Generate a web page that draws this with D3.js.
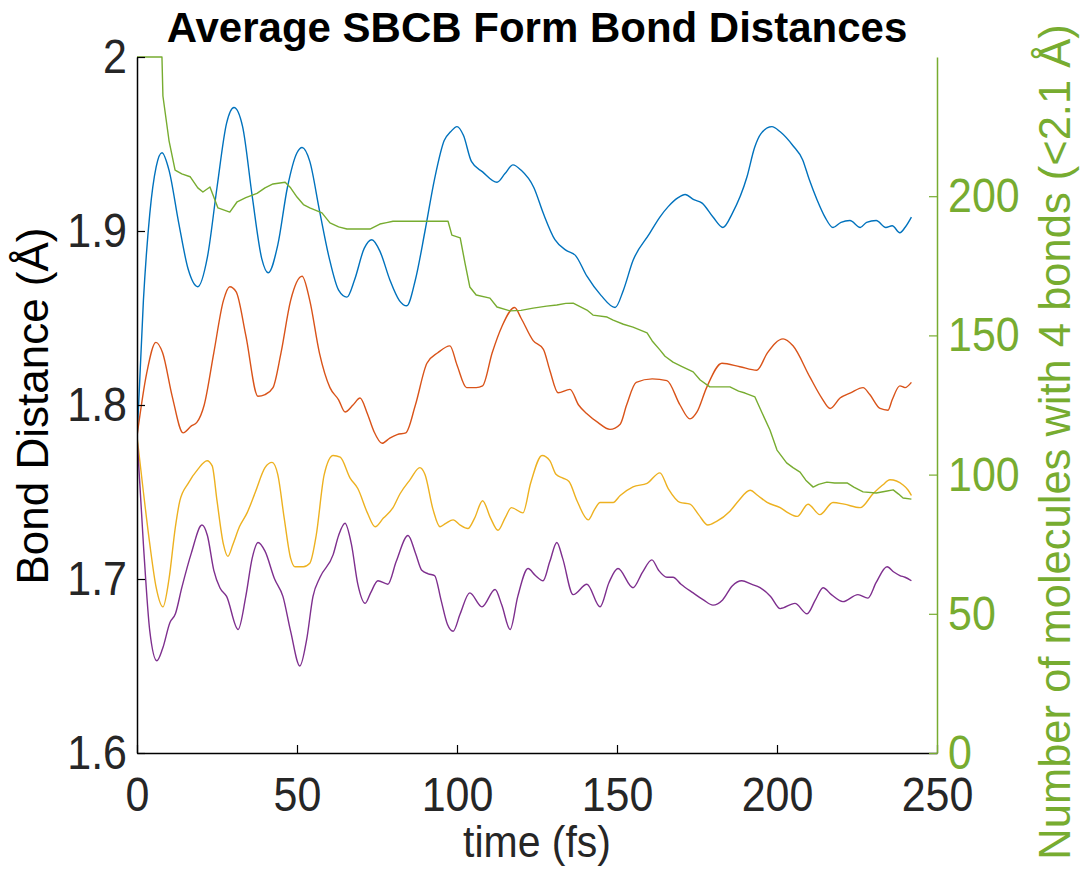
<!DOCTYPE html>
<html>
<head>
<meta charset="utf-8">
<script src="https://cdn.jsdelivr.net/npm/d3@7"></script>
<style>
  html, body { margin: 0; padding: 0; background: #fff; }
  svg { display: block; }
</style>
</head>
<body>
<svg id="chart" width="1084" height="869"></svg>
<script>
// ---------------- DATA ----------------
const xTicks = [0, 50, 100, 150, 200, 250];
const yLeftTicks = [1.6, 1.7, 1.8, 1.9, 2];
const yRightTicks = [0, 50, 100, 150, 200];

const blueT = [0,2,4,6,7.8,10,13,16,19,22,25,28,30.3,33,36,39,41,44,47,50,51.6,54,57,60,63,65.6,68,71,73.4,76,79,82,84.3,87,90,93,96,98,100,102,104.5,108,112.5,115,117.5,120,124,127,130.6,134,137,140.6,145,149.4,152,155,160,163.4,166,169,171.3,174,176.6,180,183.1,186,190.6,193,195,198.4,201,205,208,210,212.5,215,217.5,220,222.8,226,228,231,234,236,238.4,240,242];
const blueV = [1.78,1.86,1.91,1.937,1.945,1.935,1.905,1.878,1.868,1.885,1.925,1.962,1.971,1.96,1.92,1.884,1.876,1.892,1.925,1.945,1.948,1.94,1.912,1.885,1.866,1.862,1.872,1.89,1.895,1.888,1.872,1.86,1.857,1.872,1.9,1.93,1.952,1.957,1.96,1.955,1.94,1.934,1.928,1.933,1.938,1.935,1.925,1.91,1.895,1.889,1.886,1.874,1.863,1.856,1.866,1.883,1.898,1.908,1.914,1.919,1.921,1.918,1.916,1.908,1.902,1.91,1.931,1.948,1.956,1.96,1.957,1.949,1.941,1.93,1.918,1.908,1.902,1.905,1.906,1.902,1.905,1.906,1.902,1.903,1.899,1.902,1.908];

const redT = [0,3,5.9,8,11,14.4,17,18.7,21,24,27,29,31,34,37.8,40,42.5,45,48,51.6,54,57,60.3,63,65,67.5,69.7,72,74,76.6,79,81.3,84,87,90.6,94,97.8,100,103,106,108,111,114,118,120,123.8,127,129,131.6,135.3,138,140.6,144,147.8,151,153,156,161,165.6,169.7,172.8,175,178,182.8,188.4,193.7,197,201.9,205,210.3,214,216.6,219.7,223,226.9,229,232.2,234.7,236,238.4,240,242];
const redV = [1.782,1.818,1.836,1.83,1.805,1.784,1.788,1.79,1.8,1.83,1.86,1.868,1.865,1.84,1.805,1.806,1.81,1.83,1.86,1.874,1.86,1.83,1.81,1.803,1.796,1.8,1.804,1.795,1.785,1.778,1.781,1.783,1.784,1.8,1.824,1.83,1.834,1.823,1.81,1.81,1.811,1.83,1.845,1.856,1.85,1.837,1.832,1.82,1.807,1.809,1.8,1.795,1.79,1.786,1.789,1.8,1.813,1.815,1.814,1.8,1.792,1.796,1.81,1.824,1.822,1.82,1.83,1.838,1.834,1.816,1.804,1.798,1.804,1.807,1.81,1.806,1.798,1.797,1.803,1.811,1.81,1.813];

const yellowT = [0,2,4,6,8.1,10,12,13.4,16,19,21.9,23.5,25,27,28.4,30,32,34.4,37,40,42.2,44,46,48,49.4,52,54,56,58.5,61.3,63.5,66.6,69,72,74.4,77,80,82.2,85.3,88.4,90,92.5,94.7,96.5,98.8,101,103.4,105.5,108,110.5,112.8,115,117,120.6,123,126.6,129,131,133.1,135,137.5,141,143,144.7,148.8,151,155,159.4,163.4,166,169.7,172.8,175.5,178.4,181,185.3,188,191.6,194,196.9,201,203.5,206.3,209.7,213.4,217.5,221,226,230,233,235.3,239.4,241,242];
const yellowV = [1.782,1.75,1.72,1.695,1.684,1.7,1.73,1.745,1.755,1.763,1.768,1.765,1.745,1.72,1.713,1.72,1.73,1.738,1.75,1.764,1.767,1.76,1.735,1.712,1.707,1.707,1.709,1.725,1.76,1.771,1.77,1.758,1.752,1.738,1.73,1.735,1.741,1.749,1.757,1.764,1.76,1.74,1.73,1.732,1.734,1.731,1.729,1.735,1.745,1.735,1.728,1.735,1.741,1.738,1.755,1.771,1.768,1.76,1.758,1.756,1.745,1.734,1.74,1.744,1.744,1.748,1.753,1.755,1.761,1.752,1.744,1.743,1.737,1.731,1.733,1.739,1.745,1.751,1.748,1.744,1.741,1.738,1.736,1.743,1.737,1.744,1.743,1.741,1.749,1.754,1.757,1.754,1.751,1.748];

const purpleT = [0,2,4,6.2,8,10.3,12,14,17,20.3,22,24,25.9,28,31.6,34,36,37.8,40,43,45.6,48,50.9,53,55,57.2,61.3,63,65,67,69,71.3,73,75.3,78.4,81,84.7,87,89,91,93,95,97,98.8,101,104,107.8,111.9,114,116.6,119,122.2,124.5,126.9,129,131.2,133,136.3,140.6,144.7,147.5,150.3,155,158,160.9,163,165.6,167.5,170,173.8,177,180,183,186,189,192,194.7,198,201,205.6,209.4,212,214.4,217,220.6,225.3,228.4,231,234.4,236.5,238.4,240,242];
const purpleV = [1.782,1.72,1.67,1.653,1.66,1.675,1.68,1.695,1.715,1.731,1.725,1.705,1.695,1.69,1.671,1.69,1.712,1.721,1.716,1.7,1.69,1.67,1.65,1.665,1.69,1.701,1.714,1.725,1.732,1.72,1.697,1.686,1.692,1.699,1.697,1.71,1.725,1.715,1.705,1.703,1.702,1.688,1.674,1.67,1.68,1.692,1.684,1.694,1.685,1.671,1.69,1.706,1.702,1.699,1.71,1.721,1.712,1.691,1.697,1.684,1.698,1.706,1.695,1.704,1.711,1.705,1.701,1.701,1.697,1.692,1.688,1.685,1.688,1.696,1.699,1.697,1.695,1.69,1.683,1.686,1.68,1.688,1.695,1.691,1.687,1.691,1.689,1.698,1.707,1.704,1.702,1.701,1.699];

const greenT = [0,7.8,8.1,10,11.9,14,16.6,19,20.6,22.8,25.3,29,31.3,34,37.5,40,42.5,46.3,48,50,52,54,57.8,60.3,63,65.6,72.8,75.9,78,80,97.2,98.4,101,102.5,104,106,110.3,112.5,116.6,120,123.8,128,131.2,134,136.3,140.6,142.5,146.9,148.8,152,155,159.4,161,163.4,165,167.5,170,173.8,176,179,185.3,188,190,193.1,195,197.8,200,203,205,207.2,209,211.3,213,215.6,218,221.9,224,226.9,231,234,236.3,238,239.4,242];
const greenC = [250,250,236,220,209.4,208,207,203,201.5,203.3,195.8,194.3,198,199.5,201,203,204.4,205,203,199.7,197,195.8,194,190.4,189,188.2,188.2,190,190.5,191,191,186,185,176,167.4,164.5,163.4,160.2,158.8,159,159.8,160.5,160.9,161.5,161.6,159.1,157.3,156.6,155.5,154,153,150.9,148,144.8,142.5,140.4,139,136.9,134,131.5,131.5,130,129.3,127.9,123,116,108.8,104.2,102.5,100.9,98,95.5,96.5,97.3,97,97,95.5,93.8,93.4,94,94.5,93,91.6,91.2];

const seriesLeft = [
  { name: "blue",   t: blueT,   v: blueV,   color: "#0072BD" },
  { name: "red",    t: redT,    v: redV,    color: "#D95319" },
  { name: "yellow", t: yellowT, v: yellowV, color: "#EDB120" },
  { name: "purple", t: purpleT, v: purpleV, color: "#7E2F8E" }
];

const titleText = "Average SBCB Form Bond Distances";
const xLabel = "time (fs)";
const yLeftLabel = "Bond Distance (Å)";
const yRightLabel = "Number of molecules with 4 bonds (<2.1 Å)";

// ---------------- LAYOUT ----------------
const m = { left: 137, right: 937, top: 57, bottom: 753 };
const FONT = "'Liberation Sans', Arial, Helvetica, sans-serif";
const green = "#77AC30";
const tickColor = "#262626";
const tickFont = 43;
const tickStretch = 1.12;   // reference glyphs look vertically stretched
const tickLen = 8;

const svg = d3.select("#chart");

const x = d3.scaleLinear().domain([0, 250]).range([m.left, m.right]);
const yL = d3.scaleLinear().domain([1.6, 2]).range([m.bottom, m.top]);
const yR = d3.scaleLinear().domain([0, 250]).range([m.bottom, m.top]);

svg.append("defs").append("clipPath").attr("id", "clip")
  .append("rect").attr("x", m.left).attr("y", m.top - 1)
  .attr("width", m.right - m.left).attr("height", m.bottom - m.top + 1);

const lineGen = d3.line().curve(d3.curveMonotoneX);
const plot = svg.append("g").attr("clip-path", "url(#clip)");

seriesLeft.forEach(s => {
  const pts = s.t.map((t, i) => [x(t), yL(s.v[i])]);
  plot.append("path").attr("d", lineGen(pts))
    .attr("fill", "none").attr("stroke", s.color)
    .attr("stroke-width", 1.4).attr("stroke-linejoin", "round");
});

const gPts = greenT.map((t, i) => [x(t), yR(greenC[i])]);
plot.append("path").attr("d", d3.line()(gPts))
  .attr("fill", "none").attr("stroke", green)
  .attr("stroke-width", 1.4).attr("stroke-linejoin", "round");

// ---------------- AXES ----------------
function styleAxis(g, color, textColor) {
  g.select(".domain").attr("stroke", color).attr("stroke-width", 1.5);
  g.selectAll(".tick line").attr("stroke", color).attr("stroke-width", 1.2);
  g.selectAll(".tick text").attr("font-family", FONT).attr("font-size", tickFont)
    .attr("fill", textColor).attr("transform", `scale(1,${tickStretch})`);
}

const xAxis = d3.axisBottom(x).tickValues(xTicks).tickSizeInner(-tickLen).tickSizeOuter(0)
  .tickPadding(21).tickFormat(d3.format("d"));
const gx = svg.append("g").attr("transform", `translate(0,${m.bottom})`).call(xAxis);
styleAxis(gx, "#000", tickColor);

const yAxisL = d3.axisLeft(yL).tickValues(yLeftTicks).tickSizeInner(-tickLen).tickSizeOuter(0)
  .tickPadding(10).tickFormat(d => d === 2 ? "2" : d3.format(".1f")(d));
const gyl = svg.append("g").attr("transform", `translate(${m.left},0)`).call(yAxisL);
styleAxis(gyl, "#000", tickColor);

const yAxisR = d3.axisRight(yR).tickValues(yRightTicks).tickSizeInner(-tickLen).tickSizeOuter(0)
  .tickPadding(11).tickFormat(d3.format("d"));
const gyr = svg.append("g").attr("transform", `translate(${m.right},0)`).call(yAxisR);
styleAxis(gyr, green, green);

// ---------------- LABELS ----------------
svg.append("text").attr("x", (m.left + m.right) / 2).attr("y", 42)
  .attr("text-anchor", "middle").attr("font-family", FONT).attr("font-weight", "bold")
  .attr("font-size", 42).attr("fill", "#000").text(titleText);

svg.append("text").attr("transform", `translate(${(m.left + m.right) / 2},857) scale(1,1.1)`)
  .attr("text-anchor", "middle").attr("font-family", FONT)
  .attr("font-size", 41).attr("fill", tickColor).text(xLabel);

svg.append("text").attr("transform", `translate(48,406) rotate(-90)`)
  .attr("text-anchor", "middle").attr("font-family", FONT)
  .attr("font-size", 44).attr("fill", "#000").text(yLeftLabel);

svg.append("text").attr("transform", `translate(1070,442) rotate(-90)`)
  .attr("text-anchor", "middle").attr("font-family", FONT)
  .attr("font-size", 43.5).attr("fill", green).text(yRightLabel);
</script>
</body>
</html>
